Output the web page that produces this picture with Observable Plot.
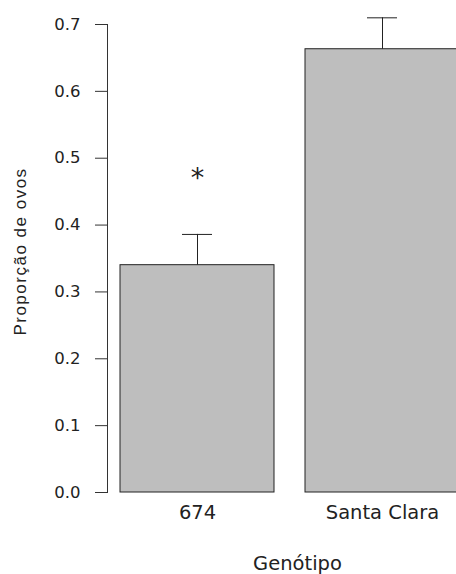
<!DOCTYPE html>
<html>
<head>
<meta charset="utf-8">
<script src="https://cdn.jsdelivr.net/npm/d3@7"></script>
<script src="https://cdn.jsdelivr.net/npm/@observablehq/plot@0.6"></script>
<style>
  html, body { margin: 0; padding: 0; background: #ffffff; overflow: hidden; }
  #chart svg { display: block; }
</style>
</head>
<body>
<div id="chart"></div>
<script>
const genotypes = ["674", "Santa Clara"];
const proportions = [0.34, 0.663];
const stdErrors = [0.046, 0.047];
const markers = ["*", ""];
const markerY = [0.47, null];
const yTicks = [0, 0.1, 0.2, 0.3, 0.4, 0.5, 0.6, 0.7];
const xTitle = "Genótipo";
const yTitle = "Proporção de ovos";

const data = genotypes.map((g, i) => ({
  g, p: proportions[i], hi: proportions[i] + stdErrors[i]
}));
const starData = genotypes
  .map((g, i) => ({ g, m: markers[i], y: markerY[i] }))
  .filter(d => d.m);

const ink = "#222";
const sans = "DejaVu Sans";
const arial = "Liberation Sans";

const chart = Plot.plot({
  width: 456,
  height: 574,
  marginLeft: 107,
  marginRight: 0,
  marginTop: 24,
  marginBottom: 82,
  style: { background: "#ffffff", fontFamily: sans, color: ink, overflow: "hidden" },
  x: { type: "band", domain: genotypes, range: [120, 459], paddingInner: 0.1676, paddingOuter: 0, label: null, axis: null },
  y: { domain: [0, 0.7], label: null, axis: null },
  marks: [
    Plot.barY(data, { x: "g", y: "p", fill: "#bebebe", stroke: ink, strokeWidth: 1 }),
    Plot.ruleX(data, { x: "g", y1: "p", y2: "hi", stroke: ink, strokeWidth: 1 }),
    Plot.tickY(data, { x: "g", y: "hi", stroke: ink, strokeWidth: 1, insetLeft: 62, insetRight: 62 }),
    Plot.text(starData, { x: "g", y: "y", text: "m", fontSize: 27, fontFamily: sans, fill: ink, dy: 0 }),
    Plot.frame({ anchor: "left", stroke: "#333" }),
    Plot.axisY({
      ticks: yTicks, tickSize: 12, tickPadding: 15, tickFormat: d3.format(".1f"),
      stroke: "#333", fill: ink, fontSize: 16.5, fontFamily: sans, label: null
    }),
    Plot.axisX({
      tickSize: 0, tickPadding: 13, fill: ink, fontSize: 19.5, fontFamily: sans, label: null
    }),
    Plot.text([xTitle], {
      frameAnchor: "bottom", lineAnchor: "middle", textAnchor: "middle", dx: 15.5, dy: 71,
      fontSize: 19.5, fontFamily: sans, fill: ink
    }),
    Plot.text([yTitle], {
      frameAnchor: "left", rotate: -90, textAnchor: "middle", lineAnchor: "middle", dx: -87, dy: -7,
      fontSize: 17, fontFamily: arial, fill: ink, className: "ytitle"
    })
  ]
});
d3.select(chart).selectAll(".ytitle text").attr("letter-spacing", "1.5px");
document.getElementById("chart").appendChild(chart);
</script>
</body>
</html>
